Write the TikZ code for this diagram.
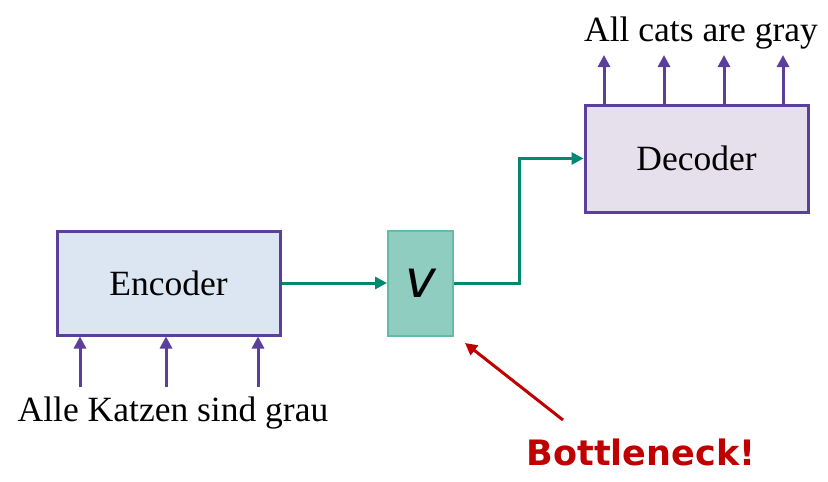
\documentclass[tikz,border=0pt]{standalone}
\usepackage{fontspec}
\setmainfont{Liberation Serif}
\newfontfamily\djv{DejaVu Sans}
\usetikzlibrary{arrows.meta}
\definecolor{purp}{HTML}{5A3F9C}
\definecolor{grn}{HTML}{00896E}
\definecolor{encfill}{HTML}{DCE6F2}
\definecolor{decfill}{HTML}{E6E0EC}
\definecolor{vfill}{HTML}{8ECDC0}
\definecolor{vborder}{HTML}{66BBA8}
\definecolor{redc}{HTML}{C00000}
\tikzset{
  block/.style={draw=purp, line width=3pt, rectangle, inner sep=0pt, font=\fontsize{35.5}{40}\selectfont},
  lbl/.style={font=\fontsize{35.5}{40}\selectfont, inner sep=0pt},
  parr/.style={draw=purp, line width=3pt, -{Triangle[width=12pt,length=12pt]}},
  garr/.style={draw=grn, line width=3pt, -{Triangle[width=12pt,length=12pt]}},
  rarr/.style={draw=redc, line width=3pt, -{Triangle[width=12pt,length=12pt]}}
}
\begin{document}
\begin{tikzpicture}[x=1pt,y=-1pt]
\useasboundingbox (0,0) rectangle (828,482);
\node[block, fill=encfill, minimum width=223pt, minimum height=104pt] (enc) at (168.5,283) {\raisebox{-2pt}{Encoder}};
\node[rectangle, draw=vborder, line width=2pt, fill=vfill, minimum width=65pt, minimum height=105pt, inner sep=0pt, font=\djv\itshape\fontsize{52}{56}\selectfont] (v) at (420.5,283.5) {v};
\node[block, fill=decfill, minimum width=223pt, minimum height=107pt] (dec) at (696.5,158.5) {\raisebox{-2pt}{Decoder}};
\node[lbl] (inp) at (173,413) {Alle Katzen sind grau};
\node[lbl] (outp) at (701,33) {All cats are gray};
\node[font=\djv\bfseries\fontsize{35}{40}\selectfont, text=redc, inner sep=0pt] (bn) at (641,452) {Bottleneck!};
% inputs
\coordinate (i1) at (80,387);
\coordinate (i2) at (166,387);
\coordinate (i3) at (258,387);
\draw[parr] (i1) -- (i1 |- enc.south);
\draw[parr] (i2) -- (i2 |- enc.south);
\draw[parr] (i3) -- (i3 |- enc.south);
% outputs
\coordinate (o1) at (604,55);
\coordinate (o2) at (664,55);
\coordinate (o3) at (724,55);
\coordinate (o4) at (783,55);
\draw[parr] (o1 |- dec.north) -- (o1);
\draw[parr] (o2 |- dec.north) -- (o2);
\draw[parr] (o3 |- dec.north) -- (o3);
\draw[parr] (o4 |- dec.north) -- (o4);
% green
\draw[garr] (enc.east |- 0,283) -- (v.west |- 0,283);
\coordinate (bend) at (519,283);
\draw[garr] (v.east |- 0,283) -- (bend) -- (bend |- dec.west) -- (dec.west);
% red
\coordinate (rs) at (563,420);
\coordinate (re) at (465,343);
\draw[rarr] (rs) -- (re);
\end{tikzpicture}
\end{document}
